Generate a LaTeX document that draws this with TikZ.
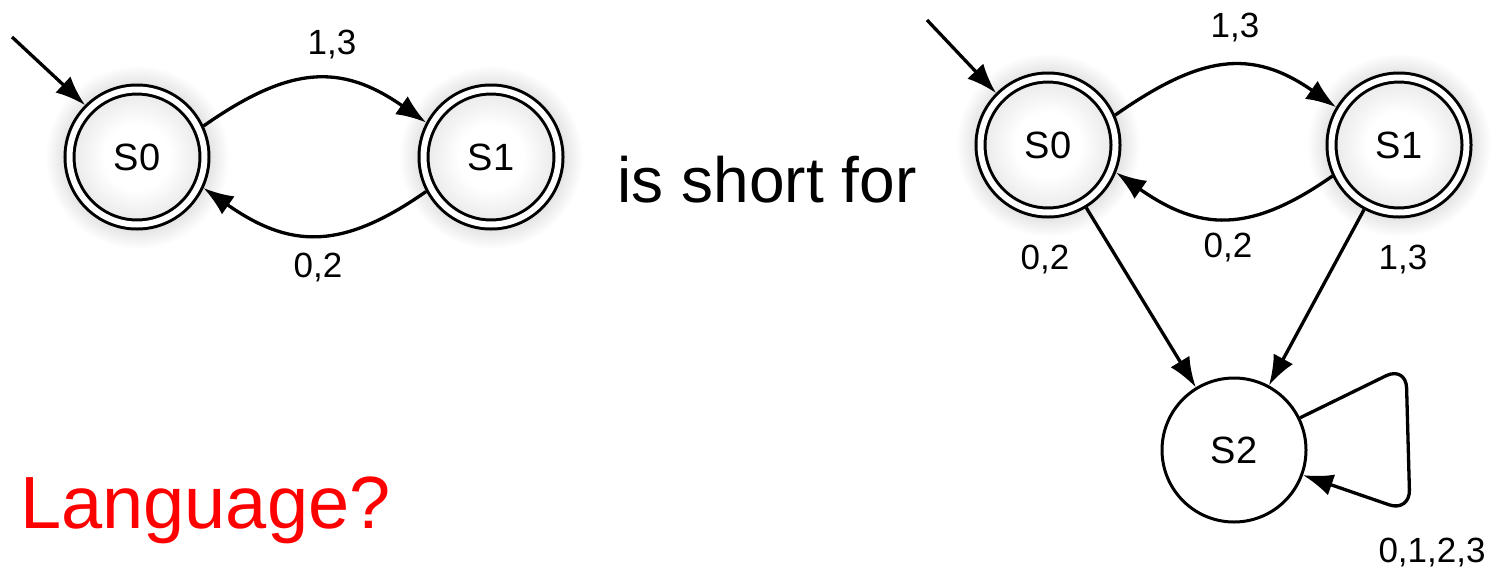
\documentclass[tikz,border=0pt]{standalone}
\usepackage{fontspec}
\setmainfont{Liberation Sans}
\usetikzlibrary{arrows.meta}
\pgfdeclareradialshading{glowshade}{\pgfpoint{0bp}{0bp}}{color(0bp)=(black!14); color(19bp)=(black!12); color(25bp)=(white); color(50bp)=(white)}
\pgfdeclareradialshading{innershade}{\pgfpoint{0bp}{0bp}}{color(0bp)=(white); color(12bp)=(white); color(25bp)=(black!9); color(50bp)=(black!9)}
\begin{document}
\begin{tikzpicture}[x=1pt,y=1pt,
  statefont/.style={font=\fontsize{38}{42}\selectfont},
  acc/.style={circle, draw, line width=3pt, double, double distance=6pt, minimum size=135pt, inner sep=0pt, outer sep=6pt, shade, shading=innershade, statefont},
  plain/.style={circle, draw, line width=3pt, minimum size=144pt, inner sep=0pt, fill=white, statefont},
  edge/.style={line width=3.3pt, -{Latex[length=30pt,width=22pt]}},
  lbl/.style={font=\fontsize{35}{40}\selectfont, inner sep=0pt},
  glow/.style={shading=glowshade}]
\useasboundingbox (0,0) rectangle (1496,-573);
% glows
\shade[glow] (137,-157) circle (92);
\shade[glow] (491,-157) circle (92);
\shade[glow] (1048,-145) circle (92);
\shade[glow] (1399,-145) circle (92);
% left automaton
\node[acc] (L0) at (137,-157) {S0};
\node[acc] (L1) at (491,-157) {S1};
\coordinate (Lstart) at (12,-37);
\draw[edge] (Lstart) -- (L0.135);
\draw[edge] (L0.25) to[out=35,in=145,looseness=1.2] (L1.152);
\draw[edge] (L1.208) to[out=215,in=-35,looseness=1.2] (L0.-25);
\node[lbl] (l1) at (332,-45) {1,3};
\node[lbl] (l2) at (318,-268) {0,2};
% middle text
\node[font=\fontsize{64}{70}\selectfont, inner sep=0pt] (mid) at (767,-180) {is short for};
\node[font=\fontsize{74}{80}\selectfont, inner sep=0pt, text=red, anchor=west] (lang) at (20,-510) {Language?};
% right automaton
\node[acc] (R0) at (1048,-145) {S0};
\node[acc] (R1) at (1399,-145) {S1};
\node[plain] (R2) at (1234,-450) {S2};
\coordinate (Rstart) at (927,-20);
\draw[edge] (Rstart) -- (R0.135);
\draw[edge] (R0.24) to[out=35,in=145,looseness=1.2] (R1.149);
\draw[edge] (R1.205) to[out=215,in=-35,looseness=1.2] (R0.-22);
\draw[edge] (R0) -- (R2);
\draw[edge] (R1) -- (R2);
\draw[edge, rounded corners=22pt] (R2.26) -- (1406,-366) -- (1410,-512) -- (R2.-20);
\node[lbl] (t1) at (1235,-28) {1,3};
\node[lbl] (t2) at (1228,-248) {0,2};
\node[lbl] (t3) at (1045,-260) {0,2};
\node[lbl] (t4) at (1403,-260) {1,3};
\node[lbl] (t5) at (1432,-553) {0,1,2,3};
\end{tikzpicture}
\end{document}
